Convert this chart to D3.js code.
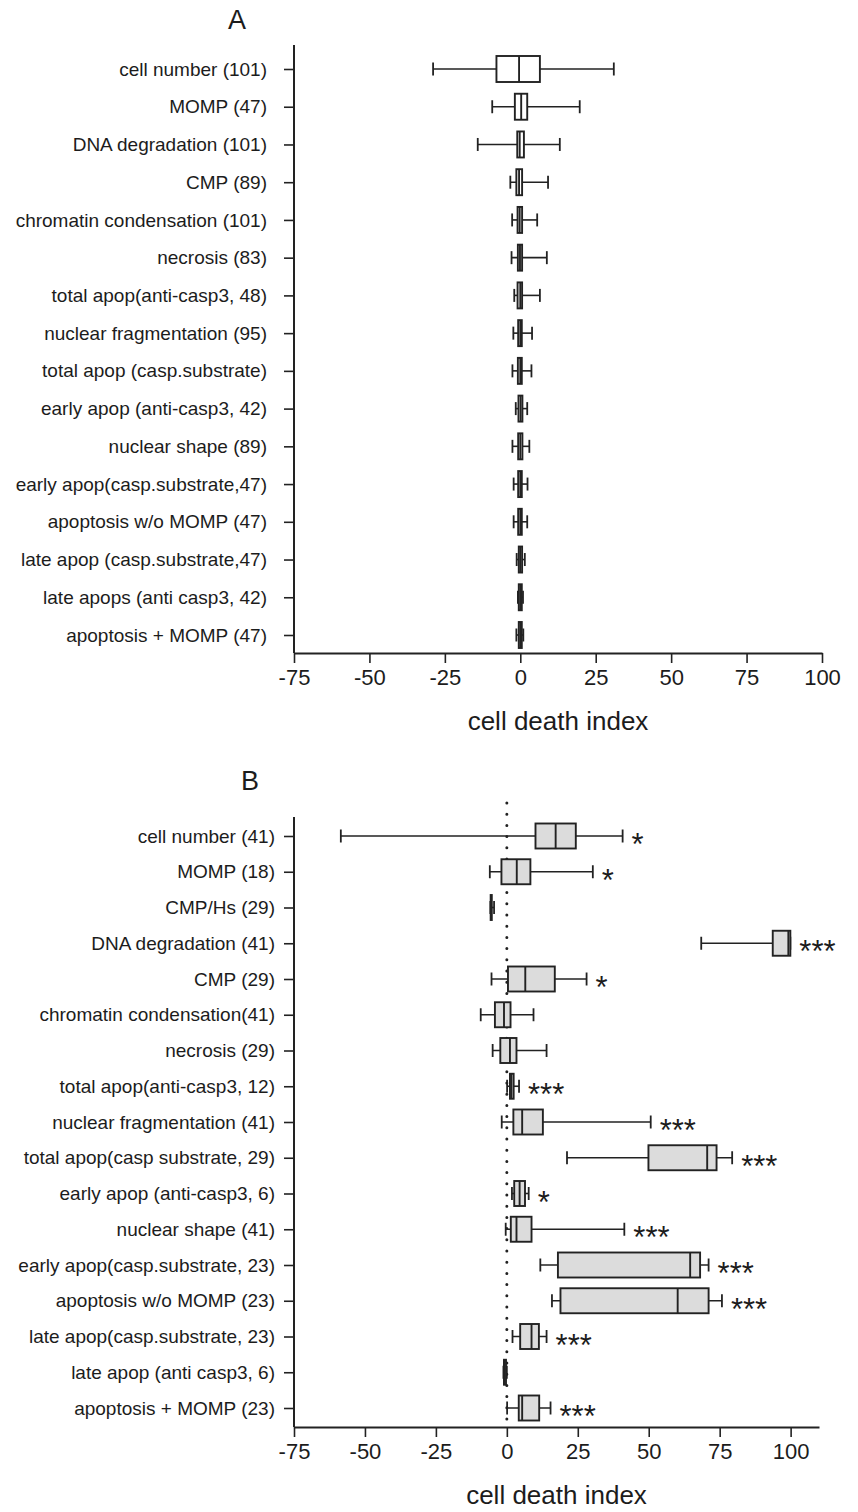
<!DOCTYPE html>
<html>
<head>
<meta charset="utf-8">
<script src="https://cdn.jsdelivr.net/npm/d3@7"></script>
<style>
  body { margin: 0; background: #fff; }
  text { font-family: "Liberation Sans", Arial, Helvetica, sans-serif; fill: #1c1c1c; }
</style>
</head>
<body>
<div id="chart"></div>
<script>
// ---- data ----
var xTicks = [-75, -50, -25, 0, 25, 50, 75, 100];

// panel A
var labelsA = ["cell number (101)", "MOMP (47)", "DNA degradation (101)", "CMP (89)",
  "chromatin condensation (101)", "necrosis (83)", "total apop(anti-casp3, 48)",
  "nuclear fragmentation (95)", "total apop (casp.substrate)", "early apop (anti-casp3, 42)",
  "nuclear shape (89)", "early apop(casp.substrate,47)", "apoptosis w/o MOMP (47)",
  "late apop (casp.substrate,47)", "late apops (anti casp3, 42)", "apoptosis + MOMP (47)"];
var lowA  = [-28.9, -9.3, -14.1, -3.3, -2.7, -2.9, -2.0, -2.3, -2.6, -1.5, -2.6, -2.2, -2.2, -1.2, -0.8, -1.3];
var q1A   = [-7.9, -1.8, -1.0, -1.3, -0.9, -0.8, -0.9, -0.7, -0.8, -0.6, -0.7, -0.7, -0.7, -0.5, -0.5, -0.5];
var medA  = [-0.4, 0.3, -0.2, -0.4, -0.2, -0.1, 0, 0, 0, 0.1, 0, 0, 0, 0, 0, 0];
var q3A   = [6.5, 2.3, 1.2, 0.6, 0.6, 0.6, 0.6, 0.5, 0.5, 0.7, 0.7, 0.5, 0.5, 0.6, 0.5, 0.5];
var highA = [31.0, 19.7, 13.1, 9.2, 5.6, 8.8, 6.5, 3.9, 3.7, 2.3, 3.0, 2.4, 2.3, 1.5, 0.9, 1.0];

// panel B
var labelsB = ["cell number (41)", "MOMP (18)", "CMP/Hs (29)", "DNA degradation (41)", "CMP (29)",
  "chromatin condensation(41)", "necrosis (29)", "total apop(anti-casp3, 12)",
  "nuclear fragmentation (41)", "total apop(casp substrate, 29)", "early apop (anti-casp3, 6)",
  "nuclear shape (41)", "early apop(casp.substrate, 23)", "apoptosis w/o MOMP (23)",
  "late apop(casp.substrate, 23)", "late apop (anti casp3, 6)", "apoptosis + MOMP (23)"];
var lowB  = [-58.5, -6.0, -5.8, 68.5, -5.4, -9.2, -5.0, 0.1, -1.8, 21.2, 1.8, -0.4, 11.8, 15.9, 2.0, -1.2, 0.1];
var q1B   = [10.1, -1.9, -5.7, 93.7, 0.4, -4.2, -2.3, 1.1, 2.3, 49.9, 2.6, 1.4, 18.0, 18.9, 4.7, -1.0, 4.2];
var medB  = [17.2, 3.5, -5.6, 99.2, 6.5, -1.0, 1.1, 1.6, 5.4, 70.6, 4.5, 3.4, 64.6, 60.2, 8.7, -1.0, 5.4];
var q3B   = [24.3, 8.3, -5.3, 99.9, 16.9, 1.3, 3.4, 2.4, 12.7, 73.9, 6.4, 8.7, 68.1, 71.1, 11.3, -0.3, 11.4];
var highB = [40.8, 30.3, -4.5, 99.9, 28.1, 9.4, 14.0, 4.3, 50.7, 79.4, 7.7, 41.4, 71.1, 75.8, 14.0, 0, 15.4];
var starsB = ["*", "*", "", "***", "*", "", "", "***", "***", "***", "*", "***", "***", "***", "***", "", "***"];

var width = 858, height = 1512;
var ink = "#222";

var svg = d3.select("#chart").append("svg")
    .attr("width", width)
    .attr("height", height);

function drawPanel(p) {
    var x = d3.scaleLinear().domain(p.xDomain).range(p.xRange);
    var y = d3.scalePoint().domain(p.labels).range(p.yRange);
    var g = svg.append("g");

    // panel letter
    g.append("text")
        .attr("x", p.letterX).attr("y", p.letterY)
        .attr("text-anchor", "middle")
        .style("font-size", "27px")
        .text(p.letter);

    // y axis (ticks + labels), own line so it can run past the first/last row
    var gy = g.append("g")
        .attr("transform", "translate(" + p.xRange[0] + ",0)")
        .call(d3.axisLeft(y).tickSize(10).tickPadding(p.yPad).tickSizeOuter(0));
    gy.select(".domain").remove();
    gy.selectAll(".tick line").attr("stroke", ink).attr("stroke-width", 1.6);
    gy.selectAll(".tick text").style("font-size", "19px");
    g.append("line")
        .attr("x1", p.xRange[0]).attr("x2", p.xRange[0])
        .attr("y1", p.axisTop).attr("y2", p.axisY)
        .attr("stroke", ink).attr("stroke-width", 2);

    // x axis
    var gx = g.append("g")
        .attr("transform", "translate(0," + p.axisY + ")")
        .call(d3.axisBottom(x).tickValues(xTicks).tickSize(10).tickPadding(6)
            .tickSizeOuter(0).tickFormat(function(d) { return String(d); }));
    gx.select(".domain").attr("stroke", ink).attr("stroke-width", 2);
    gx.selectAll(".tick line").attr("stroke", ink).attr("stroke-width", 1.6);
    gx.selectAll(".tick text").style("font-size", "22px");

    g.append("text")
        .attr("x", (p.xRange[0] + p.xRange[1]) / 2)
        .attr("y", p.axisY + 77)
        .attr("text-anchor", "middle")
        .style("font-size", "26px")
        .text("cell death index");

    // zero reference line (panel B)
    if (p.zeroLine) {
        g.append("line")
            .attr("x1", x(0)).attr("x2", x(0))
            .attr("y1", p.axisTop - 14).attr("y2", p.axisY)
            .attr("stroke", ink)
            .attr("stroke-width", 3)
            .attr("stroke-linecap", "round")
            .attr("stroke-dasharray", "0 11.2");
    }

    var rows = p.labels.map(function(l, i) {
        return {label: l, low: p.low[i], q1: p.q1[i], med: p.med[i], q3: p.q3[i], high: p.high[i],
                star: p.stars ? p.stars[i] : ""};
    });

    var box = g.append("g").selectAll("g")
        .data(rows)
        .join("g")
        .attr("transform", function(d) { return "translate(0," + y(d.label) + ")"; });

    // whisker
    box.append("line")
        .attr("x1", function(d) { return x(d.low); })
        .attr("x2", function(d) { return x(d.high); })
        .attr("stroke", ink).attr("stroke-width", 1.6);
    box.append("line")
        .attr("x1", function(d) { return x(d.low); })
        .attr("x2", function(d) { return x(d.low); })
        .attr("y1", -p.capH / 2).attr("y2", p.capH / 2)
        .attr("stroke", ink).attr("stroke-width", 1.8);
    box.append("line")
        .attr("x1", function(d) { return x(d.high); })
        .attr("x2", function(d) { return x(d.high); })
        .attr("y1", -p.capH / 2).attr("y2", p.capH / 2)
        .attr("stroke", ink).attr("stroke-width", 1.8);

    // box
    box.append("rect")
        .attr("x", function(d) { return x(d.q1); })
        .attr("width", function(d) { return Math.max(0.5, x(d.q3) - x(d.q1)); })
        .attr("y", -p.boxH / 2)
        .attr("height", p.boxH)
        .attr("fill", p.fill)
        .attr("stroke", ink).attr("stroke-width", 1.9);
    box.append("line")
        .attr("x1", function(d) { return x(d.med); })
        .attr("x2", function(d) { return x(d.med); })
        .attr("y1", -p.boxH / 2).attr("y2", p.boxH / 2)
        .attr("stroke", ink).attr("stroke-width", 1.9);

    // significance stars
    box.filter(function(d) { return d.star; })
        .append("text")
        .attr("x", function(d) { return x(d.high) + 9; })
        .attr("y", 19)
        .style("font-size", "31px")
        .text(function(d) { return d.star; });
}

drawPanel({
    letter: "A", letterX: 237, letterY: 29,
    labels: labelsA, low: lowA, q1: q1A, med: medA, q3: q3A, high: highA,
    xDomain: [-75, 100], xRange: [294, 822],
    yRange: [69, 635], axisTop: 45, axisY: 653, yPad: 17,
    boxH: 26, capH: 13, fill: "#fff", zeroLine: false
});

drawPanel({
    letter: "B", letterX: 250, letterY: 790,
    labels: labelsB, low: lowB, q1: q1B, med: medB, q3: q3B, high: highB, stars: starsB,
    xDomain: [-75, 110], xRange: [294, 819],
    yRange: [836, 1408], axisTop: 817, axisY: 1427, yPad: 9,
    boxH: 25, capH: 13, fill: "#dcdcdc", zeroLine: true
});
</script>
</body>
</html>
